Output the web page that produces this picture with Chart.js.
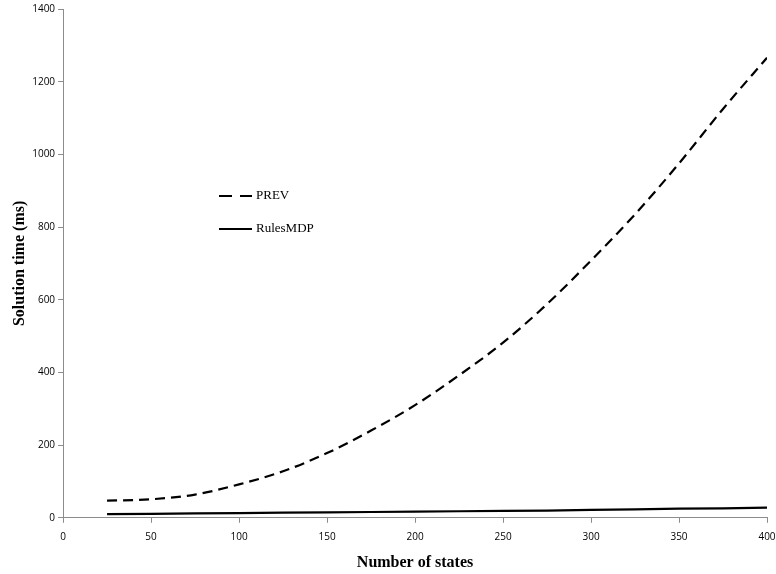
<!DOCTYPE html>
<html>
<head>
<meta charset="utf-8">
<script src="https://cdn.jsdelivr.net/npm/chart.js@4/dist/chart.umd.min.js"></script>
<style>
  html, body { margin: 0; padding: 0; background: #fff; }
  #wrap { width: 776px; height: 574px; position: relative; }
</style>
</head>
<body>
<div id="wrap"><canvas id="chart"></canvas></div>
<script>
const STATES = [25, 50, 75, 100, 125, 150, 175, 200, 225, 250, 275, 300, 325, 350, 375, 400];
const PREV_MS = [47, 51, 64, 92, 128, 178, 240, 310, 392, 482, 588, 708, 835, 975, 1125, 1266];
const RULES_MDP_MS = [10, 11, 12, 13, 14, 15, 16, 17, 18, 19, 20, 22, 23, 25, 26, 28];

const SERIES_LABELS = ["PREV", "RulesMDP"];
const X_TITLE = "Number of states";
const Y_TITLE = "Solution time (ms)";

const AXIS_COLOR = "#8c8c8c";
const TICK_FONT = { family: "'Open Sans', 'Liberation Sans', sans-serif", size: 10 };
const TITLE_FONT = { family: "'Liberation Serif', 'DejaVu Serif', serif", size: 16, weight: "bold" };

// legend drawn inside the plot, like the original
const insideLegend = {
  id: "insideLegend",
  afterDraw(chart) {
    const { ctx } = chart;
    const x0 = 219;
    const rows = [196, 229];
    ctx.save();
    chart.data.datasets.forEach((ds, i) => {
      const y = rows[i];
      ctx.strokeStyle = ds.borderColor;
      ctx.lineWidth = 2;
      ctx.setLineDash(ds.borderDash ? [13, 8] : []);
      ctx.beginPath();
      ctx.moveTo(x0, y);
      ctx.lineTo(x0 + 33, y);
      ctx.stroke();
      ctx.setLineDash([]);
      ctx.fillStyle = "#000";
      ctx.font = "13px 'Liberation Serif', serif";
      ctx.textBaseline = "middle";
      ctx.fillText(ds.label, x0 + 37, y);
    });
    ctx.restore();
  },
};

const toPoints = (values) => values.map((v, i) => ({ x: STATES[i], y: v }));
const plainTick = (value) => String(value);

new Chart(document.getElementById("chart"), {
  type: "line",
  data: {
    datasets: [
      {
        label: SERIES_LABELS[0],
        data: toPoints(PREV_MS),
        borderColor: "#000",
        borderWidth: 2.2,
        borderDash: [10, 6],
        pointRadius: 0,
        cubicInterpolationMode: "monotone",
        fill: false,
      },
      {
        label: SERIES_LABELS[1],
        data: toPoints(RULES_MDP_MS),
        borderColor: "#000",
        borderWidth: 2.2,
        pointRadius: 0,
        tension: 0,
        fill: false,
      },
    ],
  },
  options: {
    responsive: true,
    maintainAspectRatio: false,
    animation: false,
    layout: { padding: { top: 4, right: 9, left: 10, bottom: 2 } },
    plugins: {
      legend: { display: false },
      tooltip: { enabled: false },
    },
    scales: {
      x: {
        type: "linear",
        min: 0,
        max: 400,
        afterFit: (scale) => { scale.paddingRight = 0; },
        ticks: { stepSize: 50, color: "#000", font: TICK_FONT, padding: 8, callback: plainTick },
        grid: { drawOnChartArea: false, tickLength: 5, color: AXIS_COLOR },
        border: { color: AXIS_COLOR },
        title: { display: true, text: X_TITLE, color: "#000", font: TITLE_FONT, padding: { top: 2, bottom: 0 } },
      },
      y: {
        min: 0,
        max: 1400,
        ticks: { stepSize: 200, color: "#000", font: TICK_FONT, padding: 3, callback: plainTick },
        grid: { drawOnChartArea: false, tickLength: 5, color: AXIS_COLOR },
        border: { color: AXIS_COLOR },
        title: { display: true, text: Y_TITLE, color: "#000", font: TITLE_FONT, padding: { top: 0, bottom: 0 } },
      },
    },
  },
  plugins: [insideLegend],
});
</script>
</body>
</html>
